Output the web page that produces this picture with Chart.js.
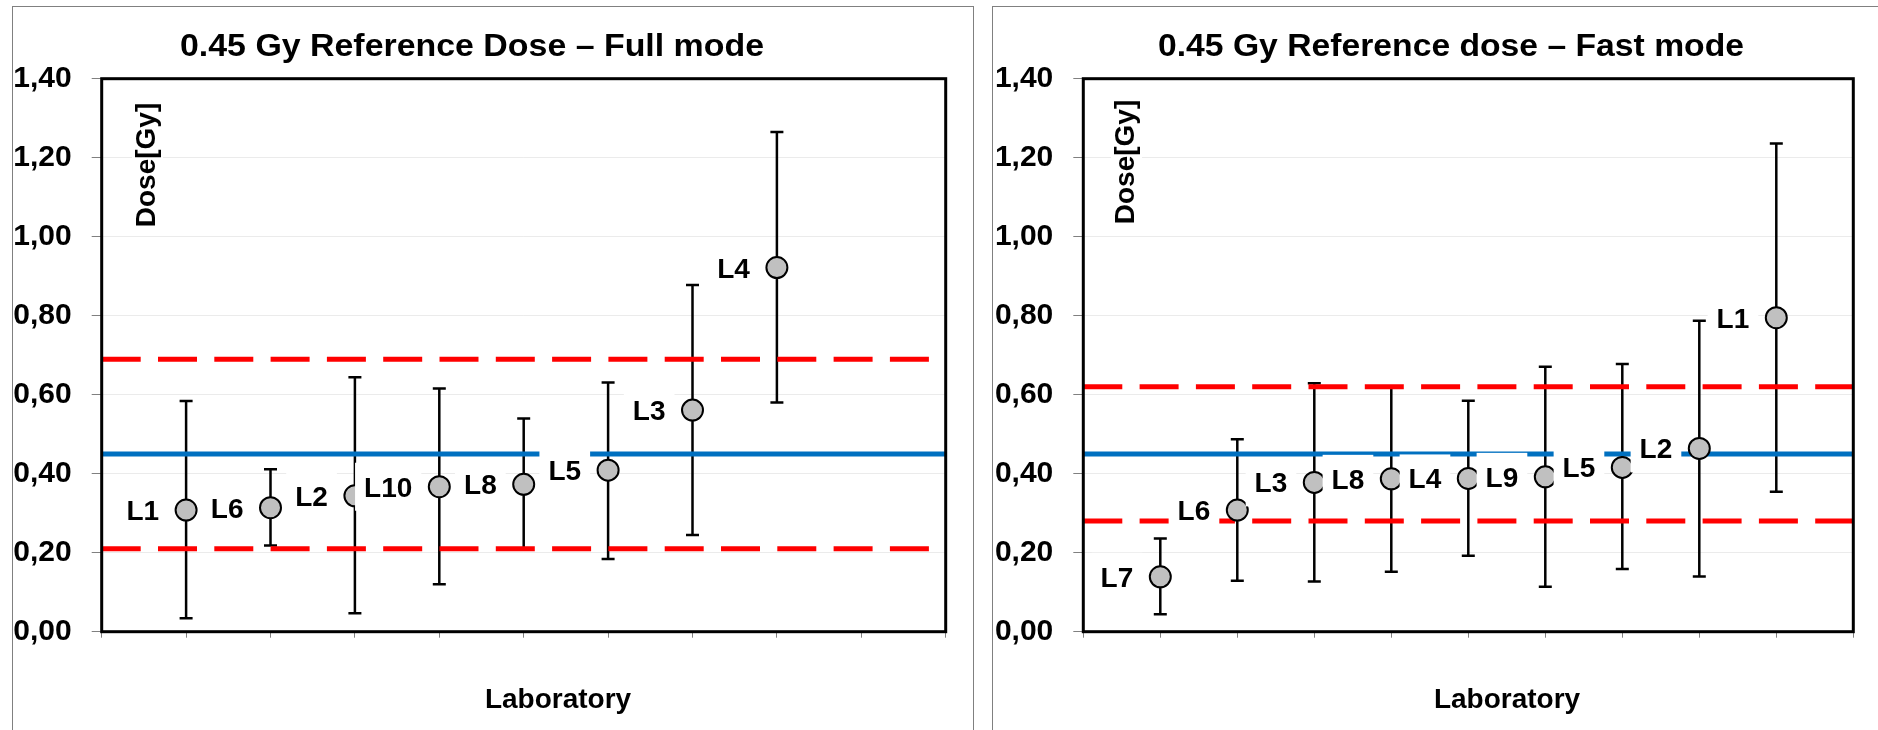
<!DOCTYPE html>
<html>
<head>
<meta charset="utf-8">
<script src="https://cdn.jsdelivr.net/npm/chart.js@4.4.1/dist/chart.umd.min.js"></script>
<style>
body { margin: 0; background: #fff; width: 1878px; height: 730px; overflow: hidden; position: relative; }
.panel { position: absolute; top: 6px; height: 760px; border: 1px solid #808080; box-sizing: border-box; }
canvas { position: absolute; top: 0; }
</style>
</head>
<body>
<div class="panel" style="left:12px;width:962px"></div>
<div class="panel" style="left:992px;width:920px"></div>
<canvas id="full" width="980" height="730" style="left:0"></canvas>
<canvas id="fast" width="898" height="730" style="left:980px"></canvas>
<script>
'use strict';
var FONT = "'Liberation Sans', Arial, sans-serif";

// Full mode
var fullLabs = ['L1', 'L6', 'L2', 'L10', 'L8', 'L5', 'L3', 'L4'];
var fullDose = [0.308, 0.314, 0.344, 0.367, 0.373, 0.409, 0.561, 0.922];
var fullHigh = [0.584, 0.411, 0.644, 0.616, 0.540, 0.631, 0.878, 1.265];
var fullLow  = [0.034, 0.218, 0.047, 0.120, 0.209, 0.184, 0.245, 0.580];
var fullRef = 0.45;
var fullLimits = [0.21, 0.69];

// Fast mode
var fastLabs = ['L7', 'L6', 'L3', 'L8', 'L4', 'L9', 'L5', 'L2', 'L1'];
var fastDose = [0.139, 0.308, 0.378, 0.387, 0.388, 0.392, 0.416, 0.464, 0.795];
var fastHigh = [0.236, 0.487, 0.629, 0.618, 0.585, 0.671, 0.678, 0.787, 1.236];
var fastLow  = [0.044, 0.129, 0.127, 0.152, 0.192, 0.114, 0.159, 0.140, 0.354];
var fastRef = 0.45;
var fastLimits = [0.28, 0.62];

var xRange = [0, 10];
var yRange = [0, 1.4];
var yStep = 0.2;

var deco = {
    id: 'deco',
    beforeDatasetsDraw: function (chart) {
        var o = chart.options.plugins.deco;
        var ctx = chart.ctx, xs = chart.scales.x, ys = chart.scales.y;
        ctx.save();
        ctx.strokeStyle = '#000';
        ctx.lineWidth = 2.5;
        o.dose.forEach(function (v, i) {
            var px = xs.getPixelForValue(i + 1);
            var top = ys.getPixelForValue(o.high[i]);
            var bot = ys.getPixelForValue(o.low[i]);
            ctx.beginPath();
            ctx.moveTo(px, top); ctx.lineTo(px, bot);
            ctx.moveTo(px - 6.5, top); ctx.lineTo(px + 6.5, top);
            ctx.moveTo(px - 6.5, bot); ctx.lineTo(px + 6.5, bot);
            ctx.stroke();
        });
        ctx.restore();
    },
    afterDatasetsDraw: function (chart) {
        var o = chart.options.plugins.deco;
        var ctx = chart.ctx, xs = chart.scales.x, ys = chart.scales.y, ca = chart.chartArea;
        ctx.save();
        ctx.font = 'bold 28px ' + FONT;
        ctx.textAlign = 'right';
        ctx.textBaseline = 'alphabetic';
        o.names.forEach(function (n, i) {
            var px = xs.getPixelForValue(i + 1) - 27;
            var py = ys.getPixelForValue(o.dose[i]);
            var w = ctx.measureText(n).width;
            ctx.fillStyle = '#fff';
            ctx.fillRect(px - w - 9, py - 24, w + 18, 48);
            ctx.fillStyle = '#000';
            ctx.fillText(n, px, py + 10);
        });
        ctx.strokeStyle = '#000';
        ctx.lineWidth = 3;
        ctx.strokeRect(ca.left, ca.top, ca.right - ca.left, ca.bottom - ca.top);
        ctx.restore();
    },
    afterDraw: function (chart) {
        var o = chart.options.plugins.deco;
        var ctx = chart.ctx;
        ctx.save();
        ctx.fillStyle = '#000';
        ctx.textBaseline = 'alphabetic';
        // title, stretched to the width it has in the figure
        ctx.font = 'bold 32px ' + FONT;
        var m = ctx.measureText(o.title).width;
        ctx.save();
        ctx.translate(o.titleX, 56);
        ctx.scale(o.titleW / m, 1);
        ctx.textAlign = 'center';
        ctx.fillText(o.title, 0, 0);
        ctx.restore();
        // x axis name
        ctx.font = 'bold 28px ' + FONT;
        ctx.textAlign = 'center';
        ctx.fillText('Laboratory', o.labX, 708);
        // y axis name inside the plot
        var dw = ctx.measureText('Dose[Gy]').width;
        ctx.translate(o.doseX, o.doseY);
        ctx.rotate(-Math.PI / 2);
        ctx.fillStyle = '#fff';
        ctx.fillRect(-dw / 2 - 2, -23, dw + 4, 31);
        ctx.fillStyle = '#000';
        ctx.fillText('Dose[Gy]', 0, 0);
        ctx.restore();
    }
};

function makeChart(id, names, dose, high, low, ref, limits, d) {
    var pts = dose.map(function (v, i) { return { x: i + 1, y: v }; });
    var flat = function (v) { return [{ x: xRange[0], y: v }, { x: xRange[1], y: v }]; };
    var dashed = {
        showLine: true, borderColor: '#ff0000', borderWidth: 5, borderDash: [39, 17.3],
        pointRadius: 0, order: 2
    };
    return new Chart(document.getElementById(id).getContext('2d'), {
        type: 'scatter',
        data: {
            datasets: [
                {
                    label: 'Dose', data: pts, order: 0,
                    pointRadius: 10.5, pointHoverRadius: 10.5,
                    pointBackgroundColor: '#c0c0c0', pointBorderColor: '#000', pointBorderWidth: 2
                },
                { label: 'Reference', data: flat(ref), showLine: true, borderColor: '#0070c0', borderWidth: 5, pointRadius: 0, order: 1 },
                Object.assign({ label: 'Lower', data: flat(limits[0]) }, dashed),
                Object.assign({ label: 'Upper', data: flat(limits[1]) }, dashed)
            ]
        },
        options: {
            responsive: false,
            animation: false,
            events: [],
            layout: { padding: { left: 0, top: 78.7, right: d.padRight, bottom: 88.3 } },
            scales: {
                x: {
                    type: 'linear', min: xRange[0], max: xRange[1],
                    afterFit: function (s) { s.height = 10; },
                    ticks: { stepSize: 1, display: false },
                    grid: { drawOnChartArea: false, drawTicks: true, tickLength: 6, tickColor: '#808080', lineWidth: 1 },
                    border: { display: false }
                },
                y: {
                    min: yRange[0], max: yRange[1],
                    afterFit: function (s) { s.width = d.yWidth; },
                    ticks: {
                        stepSize: yStep, padding: 20, color: '#000',
                        font: { family: FONT, size: 30, weight: 'bold' },
                        callback: function (v) { return v.toFixed(2).replace('.', ','); }
                    },
                    grid: { color: '#ebebeb', lineWidth: 1, tickColor: '#808080', tickLength: 10 },
                    border: { display: false }
                }
            },
            plugins: {
                legend: { display: false },
                tooltip: { enabled: false },
                deco: {
                    names: names, dose: dose, high: high, low: low,
                    title: d.title, titleX: d.titleX, titleW: d.titleW,
                    labX: d.labX, doseX: d.doseX, doseY: d.doseY
                }
            }
        },
        plugins: [deco]
    });
}

makeChart('full', fullLabs, fullDose, fullHigh, fullLow, fullRef, fullLimits, {
    padRight: 34.3, yWidth: 101.7,
    title: '0.45 Gy Reference Dose \u2013 Full mode', titleX: 472, titleW: 584,
    labX: 558, doseX: 155, doseY: 165
});

makeChart('fast', fastLabs, fastDose, fastHigh, fastLow, fastRef, fastLimits, {
    padRight: 24.7, yWidth: 103.3,
    title: '0.45 Gy Reference dose \u2013 Fast mode', titleX: 471, titleW: 586,
    labX: 527, doseX: 154, doseY: 162
});
</script>
</body>
</html>
